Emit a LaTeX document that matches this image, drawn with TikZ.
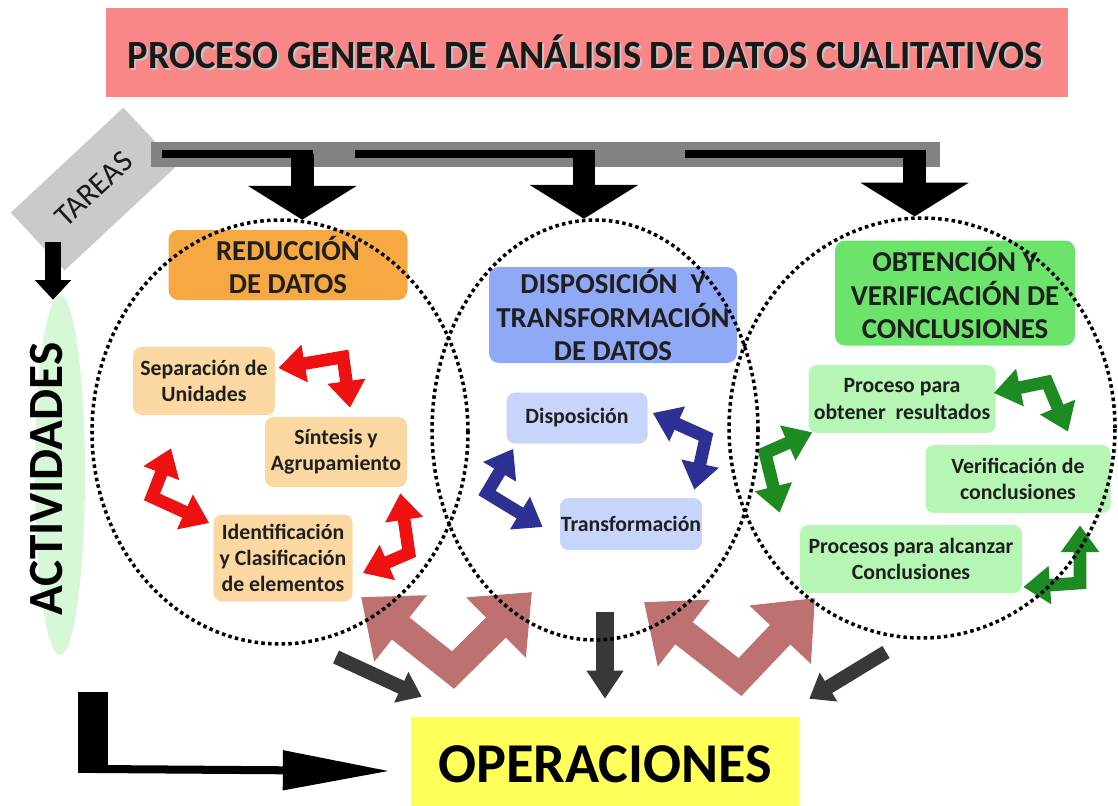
\documentclass[tikz,border=0pt]{standalone}
\usepackage{fontspec}
\setmainfont{Carlito}
\usetikzlibrary{arrows.meta,calc,positioning,shapes.geometric}

\definecolor{titlered}{HTML}{F98787}
\definecolor{tabgray}{HTML}{CACACA}
\definecolor{bargray}{HTML}{828282}
\definecolor{orangehead}{HTML}{F6A843}
\definecolor{bluehead}{HTML}{8FA9F7}
\definecolor{greenhead}{HTML}{6CE46C}
\definecolor{suborange}{HTML}{FBD7A2}
\definecolor{subblue}{HTML}{C8D5FA}
\definecolor{subgreen}{HTML}{B5F6B5}
\definecolor{redarrow}{HTML}{EE1111}
\definecolor{bluearrow}{HTML}{2D3194}
\definecolor{greenarrow}{HTML}{1E8B22}
\definecolor{rosy}{HTML}{BD7171}
\definecolor{darkarrow}{HTML}{383838}
\definecolor{operyellow}{HTML}{FFFF5A}
\definecolor{glow}{HTML}{D6F8D6}

\newcommand\diagtitle{PROCESO GENERAL DE ANÁLISIS DE DATOS CUALITATIVOS}

\begin{document}
\begin{tikzpicture}[x=0.025cm,y=-0.025cm,
  wh/.style 2 args={minimum width=#1*0.025cm,minimum height=#2*0.025cm,inner sep=0pt},
  txt/.style={align=center,text=black!88},
  head/.style={txt,rounded corners=7pt,font=\bfseries\fontsize{20.5}{23.5}\selectfont},
  sub/.style={txt,rounded corners=6pt,font=\bfseries\fontsize{15.5}{18.5}\selectfont},
  fat/.style={line width=9pt,line join=miter,{Triangle[length=19pt,width=26pt]}-{Triangle[length=19pt,width=26pt]}},
  broad/.style={rosy,line width=20pt,line join=miter,{Triangle[length=36pt,width=58pt]}-{Triangle[length=36pt,width=58pt]}},
  dark/.style={darkarrow,line width=10pt,-{Triangle[length=16pt,width=23pt]}},
  down/.style={line width=16pt,-{Triangle[length=24pt,width=76pt]}},
  barline/.style={line width=5.7pt},
  dots/.style={draw,ellipse,line width=2.5pt,dash pattern=on 2.5pt off 2.3pt,inner sep=0pt}]
  \useasboundingbox (0,0) rectangle (1118,805);

  % title
  \node[fill=titlered,wh={962}{89}] (titlebox) at (587,52.5) {};
  \node[text=gray!45,font=\bfseries\fontsize{28.5}{28.5}\selectfont,text height=22pt,text depth=0pt]
    (titleshadow) at (587,55) {\scalebox{0.96}[1]{\diagtitle}};
  \node[text=black!90,font=\bfseries\fontsize{28.5}{28.5}\selectfont,text height=22pt,text depth=0pt]
    (title) at (585,53) {\scalebox{0.96}[1]{\diagtitle}};

  % tareas / actividades
  \node[fill=tabgray,rotate=43,wh={154}{79},font=\fontsize{22}{22}\selectfont,text=black!90] (tareas) at (94,189) {TAREAS};
  \fill[bargray] (151,142) rectangle (940,167);
  \node[ellipse,fill=glow,wh={50}{360}] (glow) at (60,475) {};
  \node[rotate=90,font=\bfseries\fontsize{35}{35}\selectfont] (act) at (47,479) {ACTIVIDADES};
  \coordinate (tabfoot) at (53,242);
  \draw[line width=12pt,-{Triangle[length=14pt,width=25pt]}] (tabfoot) -- ($(glow.north)+(-7,5)$);

  % headers
  \node[head,fill=orangehead,wh={239}{70}] (reduc) at (288,265) {REDUCCIÓN\\DE DATOS};
  \node[head,fill=bluehead,wh={248}{96}] (dispt) at (613,315) {DISPOSICIÓN\ \ Y\\TRANSFORMACIÓN\\DE DATOS};
  \node[head,fill=greenhead,wh={240}{105}] (obten) at (955,293) {OBTENCIÓN Y\\VERIFICACIÓN DE\\CONCLUSIONES};

  % activities
  \node[sub,fill=suborange,wh={142}{68}] (sep) at (204,381) {Separación de\\Unidades};
  \node[sub,fill=suborange,wh={142}{70}] (sint) at (336,452) {Síntesis y\\Agrupamiento};
  \node[sub,fill=suborange,wh={139}{87}] (iden) at (283,558) {Identificación\\y Clasificación\\de elementos};
  \node[sub,fill=subblue,wh={141}{51}] (disp) at (577,418) {Disposición};
  \node[sub,fill=subblue,wh={142}{52}] (trans) at (631,524) {Transformación};
  \node[sub,fill=subgreen,wh={187}{68}] (proc) at (902,399) {Proceso para\\obtener\ \ resultados};
  \node[sub,fill=subgreen,wh={185}{68}] (verif) at (1018,479) {Verificación de\\conclusiones};
  \node[sub,fill=subgreen,wh={222}{68}] (alc) at (911,559) {Procesos para alcanzar\\Conclusiones};

  % cycle arrows
  \draw[fat,redarrow] ($(sep.east)+(3,-13)$) -- (343,357) -- ($(sint.north)+(14,-9)$);
  \draw[fat,redarrow] ($(sep.south)+(-33,33)$) -- (152,497) -- ($(iden.west)+(-4,-35)$);
  \draw[fat,redarrow] ($(sint.south east)+(-7,6)$) -- (409,553) -- ($(iden.east)+(10,15)$);
  \draw[fat,bluearrow] ($(disp.east)+(5,-5)$) -- (706,437) -- ($(trans.north east)+(-8,-8)$);
  \draw[fat,bluearrow] ($(disp.south west)+(7,5)$) -- (487,493) -- ($(trans.west)+(-17,3)$);
  \draw[fat,greenarrow] ($(proc.east)+(-2,-6)$) -- (1047,382) -- ($(verif.north)+(50,-13)$);
  \draw[fat,greenarrow] ($(proc.south west)+(4,-1)$) -- (765,453) -- ($(alc.north west)+(-20,-12)$);
  \draw[fat,greenarrow] ($(verif.south)+(62,12)$) -- (1080,583) -- ($(alc.east)+(1,28)$);

  % operaciones
  \node[fill=operyellow,wh={388}{94},font=\bfseries\fontsize{40}{40}\selectfont,text height=27pt,text depth=0pt] (oper) at (605,764) {OPERACIONES};
  \draw[broad] (361,597) -- (453,670) -- (532,592);
  \draw[broad] (644,602) -- (740,677) -- (815,598);
  \coordinate (darkL) at (336,657);
  \coordinate (darkM) at (605,612);
  \coordinate (darkR) at (886,652);
  \draw[dark] (darkL) -- ($(oper.north west)+(11,-20)$);
  \draw[dark,line width=13pt,-{Triangle[length=20pt,width=25pt]}] (darkM) -- ($(oper.north)+(0,-18)$);
  \draw[dark] (darkR) -- ($(oper.north east)+(10,-18)$);
  \fill (78,692) rectangle (108,773);
  \coordinate (lcorner) at (95,769);
  \draw[barline,-{Triangle[length=76pt,width=27pt]}] (lcorner) -- ($(oper.west)+(-21,7)$);

  % phases
  \node[dots,wh={376}{424}] (ellA) at (280,432) {};
  \node[dots,wh={326}{420}] (ellB) at (595,430) {};
  \node[dots,wh={386}{420}] (ellC) at (922,428) {};

  % tasks bar
  \coordinate (barA) at (162,154);
  \coordinate (barB) at (355,154);
  \coordinate (barC) at (685,154);
  \draw[barline] (barA) -- ($(ellA.84 |- barA)+(11,0)$);
  \draw[barline] (barB) -- ($(ellB.93 |- barB)+(11,0)$);
  \draw[barline] (barC) -- ($(ellC.92 |- barC)+(11,0)$);
  \draw[down] (ellA.84 |- barA) -- (ellA.84);
  \draw[down] (ellB.93 |- barB) -- (ellB.93);
  \draw[down] (ellC.92 |- barC) -- (ellC.92);
\end{tikzpicture}
\end{document}
